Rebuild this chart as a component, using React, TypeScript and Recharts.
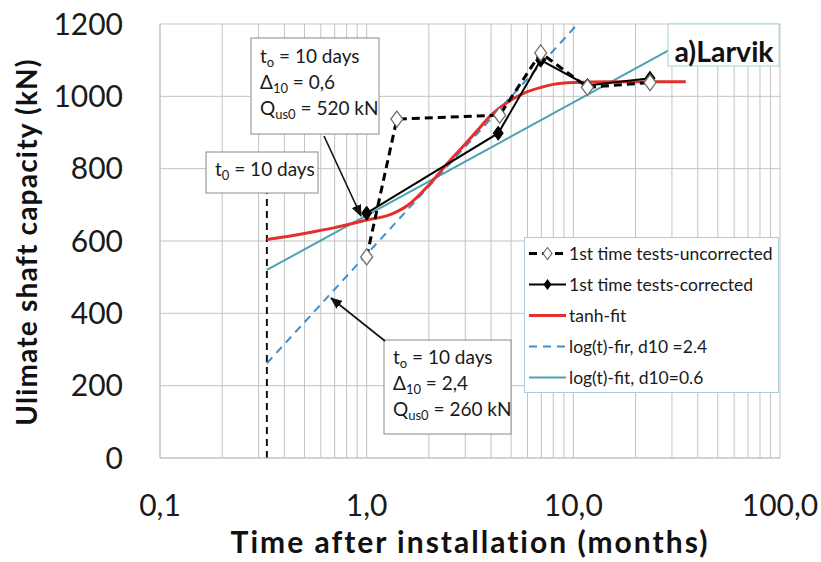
import React from 'react';
import { ComposedChart, Line, XAxis, YAxis, CartesianGrid, ReferenceLine, Legend, Label } from 'recharts';

// ---- data (time in months, capacity in kN) ----
const T0 = 0.329; // 10 days expressed in months
const T0_LINE_TOP = 733;

const uncorrectedT = [1.0, 1.4, 4.4, 6.95, 11.7, 23.5];
const uncorrectedQ = [556, 937, 948, 1120, 1025, 1038];

const correctedT = [1.0, 4.33, 6.95, 11.7, 23.5];
const correctedQ = [677, 898, 1100, 1030, 1050];

const tanhT = [0.329, 0.5, 0.7, 1.0, 1.3, 1.6, 2.0, 2.5, 3.0, 3.5, 4.0, 5.0, 6.0, 7.0, 8.0, 10, 15, 20, 35];
const tanhQ = [604, 621, 637, 658, 673, 701, 755, 819, 868, 911, 948, 990, 1013, 1025, 1033, 1038, 1040, 1040, 1040];

const logFit24T = [0.329, 10.5];
const logFit24Q = [262, 1200];

const logFit06T = [0.329, 29.5];
const logFit06Q = [520, 1130];

const xTicks = [0.1, 0.2, 0.3, 0.4, 0.5, 0.6, 0.7, 0.8, 0.9, 1, 2, 3, 4, 5, 6, 7, 8, 9, 10, 20, 30, 40, 50, 60, 70, 80, 90, 100];
const xMajorTicks = [0.1, 1, 10, 100];
const yTicks = [0, 200, 400, 600, 800, 1000, 1200];
const yMinorTicks = [0, 50, 100, 150, 200, 250, 300, 350, 400, 450, 500, 550, 600, 650, 700, 750, 800, 850, 900, 950, 1000, 1050, 1100, 1150, 1200];

const seriesNames = [
  '1st time tests-uncorrected',
  '1st time tests-corrected',
  'tanh-fit',
  'log(t)-fir, d10 =2.4',
  'log(t)-fit, d10=0.6',
];

const zip = (ts: number[], qs: number[]) => ts.map((t, i) => ({ t, q: qs[i] }));
const uncData = zip(uncorrectedT, uncorrectedQ);
const corData = zip(correctedT, correctedQ);
const tanhData = zip(tanhT, tanhQ);
const log24Data = zip(logFit24T, logFit24Q);
const log06Data = zip(logFit06T, logFit06Q);

const FONT = 'Lato, "Noto Sans", sans-serif';
const GRID = '#c3c3c3';
const BOX_BORDER = '#a8d0da';
const RED = '#e42f2b';
const LIGHT_BLUE = '#3f8fcf';
const TEAL = '#4aa2b2';

const OpenDiamond = (props: any) => {
  const { cx, cy, index } = props;
  if (cx == null || cy == null) return <g key={`od${index}`} />;
  return (
    <polygon
      key={`od${index}`}
      points={`${cx},${cy - 8} ${cx + 6},${cy} ${cx},${cy + 8} ${cx - 6},${cy}`}
      fill="#fff"
      stroke="#6e6e6e"
      strokeWidth={1.3}
    />
  );
};

const FilledDiamond = (props: any) => {
  const { cx, cy, index } = props;
  if (cx == null || cy == null) return <g key={`fd${index}`} />;
  return (
    <polygon
      key={`fd${index}`}
      points={`${cx},${cy - 7} ${cx + 5},${cy} ${cx},${cy + 7} ${cx - 5},${cy}`}
      fill="#000"
      stroke="#000"
      strokeWidth={1}
    />
  );
};

const fmtTick = (v: number) => (xMajorTicks.includes(v) ? v.toFixed(1).replace('.', ',') : '');

const LegendContent = (props: any) => {
  const payload = [...(props.payload || [])].sort(
    (a: any, b: any) => seriesNames.indexOf(a.value) - seriesNames.indexOf(b.value)
  );
  return (
    <div
      style={{
        width: 255,
        height: 156,
        boxSizing: 'border-box',
        border: `1px solid ${BOX_BORDER}`,
        background: '#fff',
        fontFamily: FONT,
        fontSize: 17.5,
        color: '#1a1a1a',
      }}
    >
      {payload.map((e: any, i: number) => {
        const p = e.payload || {};
        const isUnc = e.value === seriesNames[0];
        const isCor = e.value === seriesNames[1];
        return (
          <div key={i} style={{ height: 31, display: 'flex', alignItems: 'center' }}>
            <svg width={44} height={31} style={{ flex: 'none' }}>
              <line
                x1={4}
                x2={41}
                y1={15.5}
                y2={15.5}
                stroke={e.color}
                strokeWidth={p.strokeWidth || 2}
                strokeDasharray={p.strokeDasharray}
              />
              {isUnc && (
                <polygon points="22.5,9.5 27,15.5 22.5,21.5 18,15.5" fill="#fff" stroke="#6e6e6e" strokeWidth={1.2} />
              )}
              {isCor && <polygon points="22.5,10 26.5,15.5 22.5,21 18.5,15.5" fill="#000" />}
            </svg>
            <span style={{ whiteSpace: 'nowrap' }}>{e.value}</span>
          </div>
        );
      })}
    </div>
  );
};

const YTitle = () => {
  const x = 37;
  const y = 242;
  return (
    <text
      x={x}
      y={y}
      transform={`rotate(-90 ${x} ${y})`}
      textAnchor="middle"
      fontFamily={FONT}
      fontWeight={700}
      fontSize={28}
      letterSpacing={1.2}
      fill="#111"
    >
      Ulimate shaft capacity (kN)
    </text>
  );
};

const Overlay = () => (
  <svg
    width={821}
    height={562}
    style={{ position: 'absolute', left: 0, top: 0, pointerEvents: 'none' }}
    fontFamily={FONT}
  >
    <defs>
      <marker id="ah" markerWidth={12} markerHeight={10} refX={11} refY={5} orient="auto" markerUnits="userSpaceOnUse">
        <path d="M0,0 L12,5 L0,10 z" fill="#111" />
      </marker>
    </defs>
    {/* a)Larvik */}
    <rect x={668} y={24} width={111} height={42} fill="#fff" stroke={BOX_BORDER} strokeWidth={1} />
    <text x={724} y={62} textAnchor="middle" fontSize={28.5} fontWeight={700} fill="#111">
      a)Larvik
    </text>

    {/* small t0 box */}
    <rect x={206} y={152} width={112} height={41} fill="#fff" stroke="#8a8a8a" strokeWidth={1} />
    <text x={215} y={176} fontSize={19} fill="#1a1a1a">
      t<tspan fontSize={13} dy={4}>0</tspan>
      <tspan dy={-4}> = 10 days</tspan>
    </text>

    {/* upper box */}
    <rect x={251} y={38} width={128} height={96} fill="#fff" stroke="#8a8a8a" strokeWidth={1} />
    <text x={260} y={63} fontSize={19} fill="#1a1a1a">
      t<tspan fontSize={13} dy={4}>o</tspan>
      <tspan dy={-4}> = 10 days</tspan>
    </text>
    <text x={260} y={89} fontSize={19} fill="#1a1a1a">
      Δ<tspan fontSize={13} dy={4}>10</tspan>
      <tspan dy={-4}> = 0,6</tspan>
    </text>
    <text x={260} y={115} fontSize={19} fill="#1a1a1a">
      Q<tspan fontSize={13} dy={4}>us0</tspan>
      <tspan dy={-4}> = 520 kN</tspan>
    </text>
    <line x1={324} y1={136} x2={361} y2={216} stroke="#111" strokeWidth={1.6} markerEnd="url(#ah)" />

    {/* lower box */}
    <rect x={384} y={340} width={127} height={94} fill="#fff" stroke="#8a8a8a" strokeWidth={1} />
    <text x={393} y={364} fontSize={19} fill="#1a1a1a">
      t<tspan fontSize={13} dy={4}>o</tspan>
      <tspan dy={-4}> = 10 days</tspan>
    </text>
    <text x={393} y={390} fontSize={19} fill="#1a1a1a">
      Δ<tspan fontSize={13} dy={4}>10</tspan>
      <tspan dy={-4}> = 2,4</tspan>
    </text>
    <text x={393} y={416} fontSize={19} fill="#1a1a1a">
      Q<tspan fontSize={13} dy={4}>us0</tspan>
      <tspan dy={-4}> = 260 kN</tspan>
    </text>
    <line x1={385} y1={341} x2={331} y2={298} stroke="#111" strokeWidth={1.6} markerEnd="url(#ah)" />
  </svg>
);

export default function App() {
  return (
    <div style={{ position: 'absolute', left: 0, top: 0, width: 821, height: 562, background: '#fff', fontFamily: FONT }}>
      <ComposedChart width={821} height={562} margin={{ top: 24, right: 41, left: 0, bottom: 0 }}>
        <CartesianGrid stroke={GRID} strokeWidth={1} />
        <XAxis
          type="number"
          dataKey="t"
          scale="log"
          domain={[0.1, 100]}
          allowDataOverflow
          ticks={xTicks}
          interval={0}
          tickFormatter={fmtTick}
          tickLine={false}
          tickSize={0}
          tickMargin={37}
          height={104}
          axisLine={{ stroke: GRID }}
          tick={{ fontSize: 30, fill: '#1a1a1a', fontFamily: FONT }}
        >
          <Label
            value="Time after installation (months)"
            position="insideBottom"
            offset={9}
            style={{ fontSize: 30, fontWeight: 700, fill: '#111', fontFamily: FONT, letterSpacing: 2 }}
          />
        </XAxis>
        <YAxis
          type="number"
          domain={[0, 1200]}
          ticks={yTicks}
          interval={0}
          width={160}
          tickLine={false}
          tickSize={0}
          tickMargin={37}
          axisLine={{ stroke: GRID }}
          tick={{ fontSize: 30, fill: '#1a1a1a', fontFamily: FONT }}
        >
          <Label content={<YTitle />} />
        </YAxis>
        <YAxis
          yAxisId="minor"
          type="number"
          domain={[0, 1200]}
          ticks={yMinorTicks}
          interval={0}
          mirror
          width={0}
          tick={false}
          tickSize={6}
          tickLine={{ stroke: GRID }}
          axisLine={false}
        />
        <ReferenceLine
          segment={[
            { x: T0, y: 0 },
            { x: T0, y: T0_LINE_TOP },
          ]}
          stroke="#111"
          strokeWidth={2}
          strokeDasharray="7 5"
        />
        <Line
          data={log06Data}
          dataKey="q"
          name={seriesNames[4]}
          stroke={TEAL}
          strokeWidth={2}
          dot={false}
          isAnimationActive={false}
        />
        <Line
          data={log24Data}
          dataKey="q"
          name={seriesNames[3]}
          stroke={LIGHT_BLUE}
          strokeWidth={2}
          strokeDasharray="8 6"
          dot={false}
          isAnimationActive={false}
        />
        <Line
          data={tanhData}
          dataKey="q"
          name={seriesNames[2]}
          type="monotone"
          stroke={RED}
          strokeWidth={3}
          dot={false}
          isAnimationActive={false}
        />
        <Line
          data={corData}
          dataKey="q"
          name={seriesNames[1]}
          stroke="#000"
          strokeWidth={2}
          dot={<FilledDiamond />}
          isAnimationActive={false}
        />
        <Line
          data={uncData}
          dataKey="q"
          name={seriesNames[0]}
          stroke="#000"
          strokeWidth={3}
          strokeDasharray="8 5"
          dot={<OpenDiamond />}
          isAnimationActive={false}
        />
        <Legend
          layout="vertical"
          align="center"
          verticalAlign="middle"
          wrapperStyle={{ position: 'absolute', left: 524, top: 237, width: 255, height: 156 }}
          content={<LegendContent />}
        />
      </ComposedChart>
      <Overlay />
    </div>
  );
}
